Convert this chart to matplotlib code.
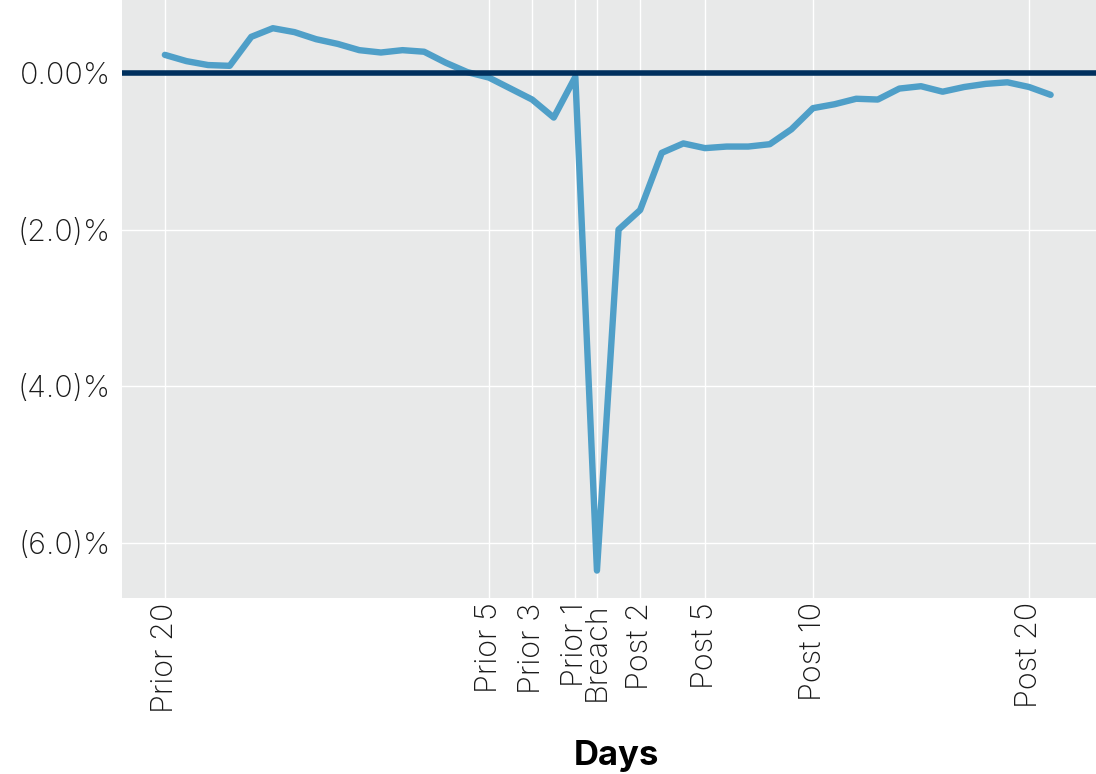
import matplotlib.pyplot as plt

# daily abnormal return around the breach date (day 0), in percent
days = list(range(-20, 22))
returns = [0.23, 0.15, 0.10, 0.09, 0.46, 0.57, 0.52, 0.43, 0.37, 0.29,
           0.26, 0.29, 0.27, 0.13, 0.01, -0.06, -0.20, -0.34, -0.57, -0.05,
           -6.35, -2.00, -1.75, -1.02, -0.90, -0.96, -0.94, -0.94, -0.91, -0.72,
           -0.45, -0.40, -0.33, -0.34, -0.20, -0.17, -0.24, -0.18, -0.14, -0.12,
           -0.18, -0.28]

tick_days = [-20, -5, -3, -1, 0, 2, 5, 10, 20]
tick_names = ['Prior 20', 'Prior 5', 'Prior 3', 'Prior 1', 'Breach',
              'Post 2', 'Post 5', 'Post 10', 'Post 20']
y_ticks = [0, -2, -4, -6]
y_names = ['0.00%', '(2.0)%', '(4.0)%', '(6.0)%']

plt.rcParams['font.family'] = ['Inter', 'DejaVu Sans']

fig = plt.figure(figsize=(10.96, 7.74), dpi=100)
ax = fig.add_axes([0.111, 0.2274, 0.889, 0.7726])
ax.set_facecolor('#e8e9e9')

ax.axhline(0, color='#00305e', linewidth=4, zorder=3)
ax.plot(days, returns, color='#4f9fc8', linewidth=4.6,
        solid_capstyle='round', solid_joinstyle='round', zorder=2)

ax.set_xlim(-22.0, 23.1)
ax.set_ylim(-6.70, 0.93)

ax.set_xticks(tick_days)
ax.set_xticklabels(tick_names, rotation=90, fontsize=22, fontweight='light',
                   color='#1a1a1a')
ax.set_yticks(y_ticks)
ax.set_yticklabels(y_names, fontsize=22, fontweight='light', color='#1a1a1a')
ax.tick_params(axis='x', length=0, pad=3)
ax.tick_params(axis='y', length=0, pad=8)

ax.grid(True, color='white', linewidth=1)
ax.set_axisbelow(True)
for s in ax.spines.values():
    s.set_visible(False)

ax.set_xlabel('Days', fontsize=25, fontweight='bold', labelpad=20)
ax.xaxis.label.set_x(0.508)

fig.savefig('out.png', dpi=100)
